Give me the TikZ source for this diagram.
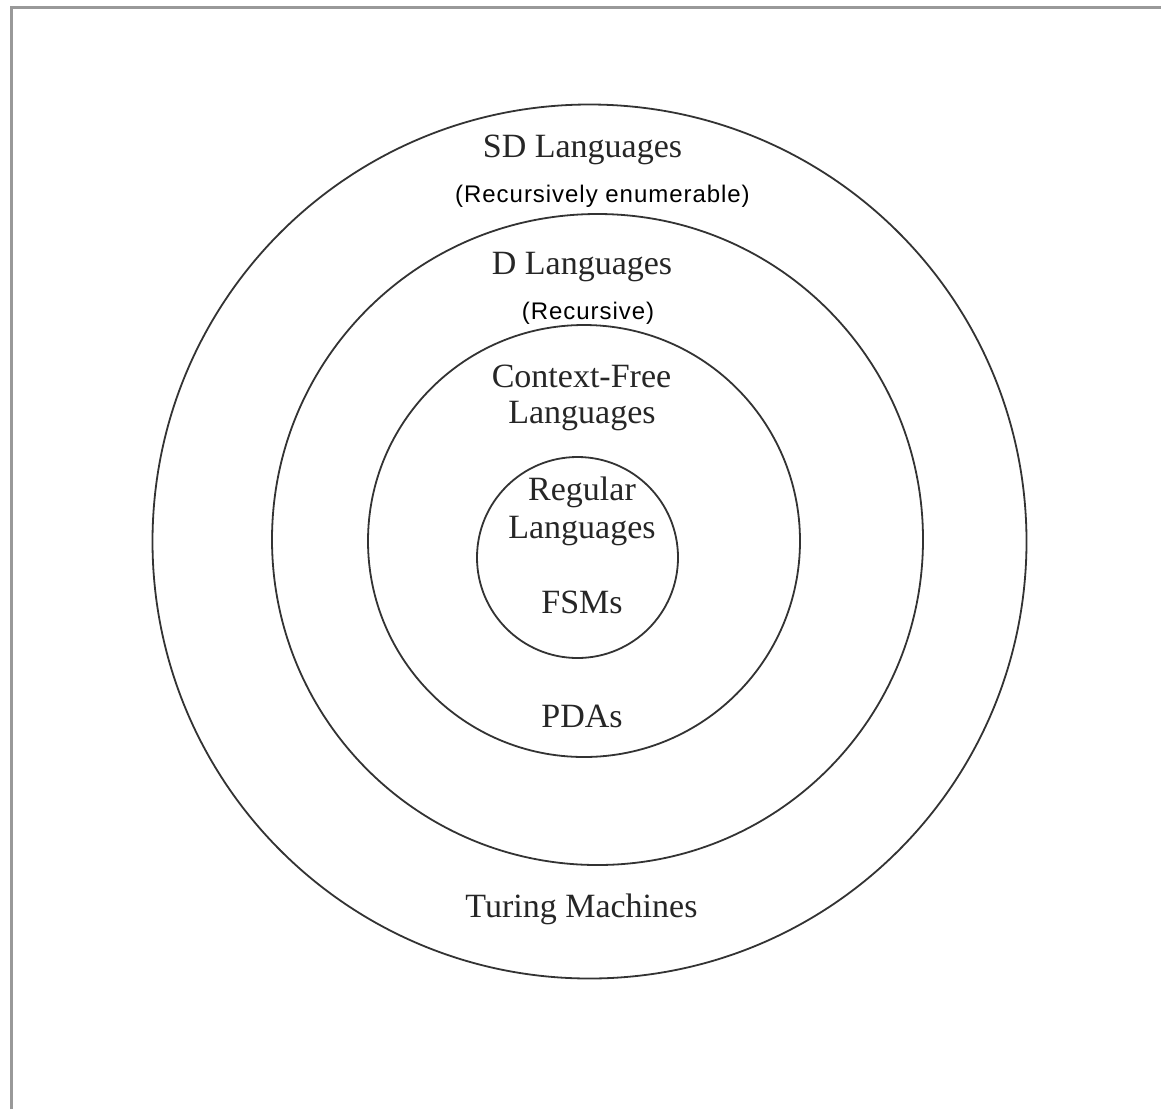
\documentclass[tikz,border=0pt]{standalone}
\usepackage{fontspec}
\setmainfont{Liberation Serif}
\newfontfamily\arialfont[LetterSpace=4]{Liberation Sans}
\begin{document}
\begin{tikzpicture}[x=1pt,y=-1pt,
  ring/.style={circle,draw=black!80,line width=1.8pt,inner sep=0pt},
  lbl/.style={anchor=base,inner sep=0pt,font=\fontsize{34}{36}\selectfont,text=black!85},
  sub/.style={anchor=base,inner sep=0pt,font=\arialfont\fontsize{24}{26}\selectfont,text=black}]
\useasboundingbox (0,0) rectangle (1161,1109);
\fill[white] (0,0) rectangle (1161,1109);
\draw[black!40,line width=3pt] (11,1109) -- (11,7) -- (1161,7);
% circles
\node[ring,minimum size=874pt] (sd) at (589.5,541.5) {};
\node[ring,minimum size=651pt] (dl) at (597.5,539.5) {};
\node[ring,minimum size=432pt] (cf) at (584,541) {};
\node[ring,minimum size=201pt] (rg) at (577.5,557.5) {};
% labels
\node[lbl] (sdt) at (582.5,157) {SD Languages};
\node[sub] (sds) at (602.5,202) {(Recursively enumerable)};
\node[lbl] (dt) at (582,274) {D Languages};
\node[sub] (ds) at (588,319) {(Recursive)};
\node[lbl] (cft1) at (581.5,387) {Context-Free};
\node[lbl] (cft2) at (582,423) {Languages};
\node[lbl] (rgt1) at (582,500) {Regular};
\node[lbl] (rgt2) at (582,538) {Languages};
\node[lbl] (fsm) at (582,613) {FSMs};
\node[lbl] (pda) at (582,727) {PDAs};
\node[lbl] (tm) at (581.5,917) {Turing Machines};
\end{tikzpicture}
\end{document}
